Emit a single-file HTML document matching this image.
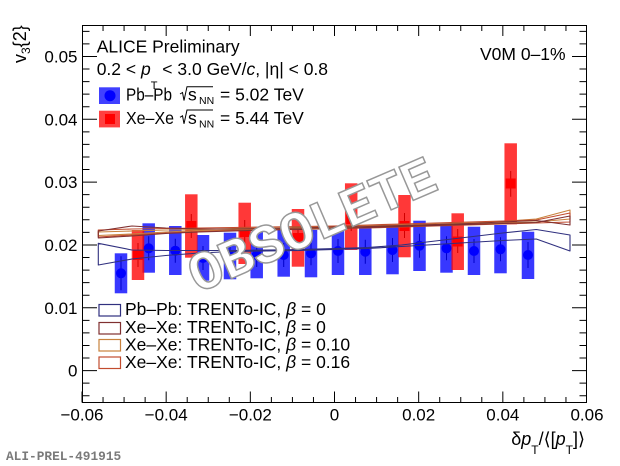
<!DOCTYPE html>
<html><head><meta charset="utf-8"><style>
html,body{margin:0;padding:0;background:#fff;}
svg{display:block;}
text{font-family:"Liberation Sans",sans-serif;}
</style></head><body>
<svg width="620" height="466" viewBox="0 0 620 466" xmlns="http://www.w3.org/2000/svg">
<rect x="0" y="0" width="620" height="466" fill="#fff"/>

<!-- blue syst boxes -->
<g fill="rgba(0,0,255,0.78)">
<rect x="114.75" y="253.3" width="12.5" height="40"/>
<rect x="142.45" y="223.3" width="12.5" height="49.4"/>
<rect x="169.05" y="226" width="12.5" height="49"/>
<rect x="196.75" y="235" width="12.5" height="45.7"/>
<rect x="223.75" y="232.7" width="12.5" height="46.6"/>
<rect x="250.45" y="231.7" width="12.5" height="46.6"/>
<rect x="277.45" y="228.3" width="12.5" height="48.4"/>
<rect x="304.75" y="230" width="12.5" height="47.3"/>
<rect x="331.75" y="226.7" width="12.5" height="48.3"/>
<rect x="359.05" y="226.7" width="12.5" height="48.3"/>
<rect x="386.25" y="225.7" width="12.5" height="48.6"/>
<rect x="413.25" y="220.7" width="12.5" height="50.3"/>
<rect x="440.25" y="223.3" width="12.5" height="49.4"/>
<rect x="467.75" y="226.7" width="12.5" height="48.3"/>
<rect x="494.25" y="225" width="12.5" height="48.3"/>
<rect x="521.75" y="231.7" width="12.5" height="47.3"/>
</g>
<!-- red syst boxes -->
<g fill="rgba(255,0,0,0.78)">
<rect x="131.75" y="230" width="12.5" height="50"/>
<rect x="185.05" y="194.3" width="12.5" height="63.4"/>
<rect x="238.45" y="202.7" width="12.5" height="61.3"/>
<rect x="291.75" y="209" width="12.5" height="57.7"/>
<rect x="344.95" y="183.3" width="12.5" height="66.7"/>
<rect x="398.25" y="195" width="12.5" height="62.3"/>
<rect x="451.45" y="213.3" width="12.5" height="56.7"/>
<rect x="504.45" y="143.3" width="12.5" height="81"/>
</g>

<!-- blue stat errors + markers -->
<g stroke="#0000c8" stroke-width="1">
<path d="M121,256.3V290.3 M148.7,236.3V260.3 M175.3,238.7V262.7 M203,246V270 M230,244V268 M256.7,243V267 M283.7,243V267 M311,241.3V265.3 M338,239V263 M365.3,239.7V263.7 M392.5,238V262 M419.5,233.7V257.7 M446.5,236.3V260.3 M474,239V263 M500.5,237.3V261.3 M528,242V268"/>
</g>
<g fill="#0000ff">
<circle cx="121" cy="273.3" r="5"/>
<circle cx="148.7" cy="248.3" r="5"/>
<circle cx="175.3" cy="250.7" r="5"/>
<circle cx="203" cy="258" r="5"/>
<circle cx="230" cy="256" r="5"/>
<circle cx="256.7" cy="255" r="5"/>
<circle cx="283.7" cy="255" r="5"/>
<circle cx="311" cy="253.3" r="5"/>
<circle cx="338" cy="251" r="5"/>
<circle cx="365.3" cy="251.7" r="5"/>
<circle cx="392.5" cy="250" r="5"/>
<circle cx="419.5" cy="245.7" r="5"/>
<circle cx="446.5" cy="248.3" r="5"/>
<circle cx="474" cy="251" r="5"/>
<circle cx="500.5" cy="249.3" r="5"/>
<circle cx="528" cy="255" r="5"/>
</g>
<!-- red stat errors + markers -->
<g stroke="#d00000" stroke-width="1">
<path d="M138,243V267 M191.3,214V238 M244.7,220V244 M298,226V250 M351.2,207V231 M404.5,213V238 M457.7,229V253 M510.7,171V196.7"/>
</g>
<g fill="#ff0000">
<rect x="133" y="250" width="10" height="10"/>
<rect x="186.3" y="221" width="10" height="10"/>
<rect x="239.7" y="227" width="10" height="10"/>
<rect x="293" y="233" width="10" height="10"/>
<rect x="346.2" y="214" width="10" height="10"/>
<rect x="399.5" y="221" width="10" height="10"/>
<rect x="452.7" y="236.5" width="10" height="10"/>
<rect x="505.7" y="178.5" width="10" height="10"/>
</g>

<!-- TRENTo bands -->
<g fill="none" stroke-width="1.1" stroke-linejoin="round">
<path stroke="#30307f" d="M98.3,243.3 L132,250 L165.7,250.5 L199.4,250.5 L233.1,250.5 L266.8,250 L300.4,249.5 L334.1,248.5 L367.8,247.5 L401.5,245 L435.2,241 L468.9,237 L502.6,233 L536.3,229.5 L570,235 L570,251 L536.3,239 L502.6,240.5 L468.9,242.5 L435.2,244.5 L401.5,246.5 L367.8,248.5 L334.1,249.5 L300.4,250.5 L266.8,251 L233.1,251.5 L199.4,253 L165.7,255.5 L132,259 L98.3,265 Z"/>
<path stroke="#c8823c" d="M98.3,232 L132,231 L165.7,230 L199.4,229.5 L233.1,228.5 L266.8,228 L300.4,227.5 L334.1,226.5 L367.8,225.5 L401.5,225 L435.2,224 L468.9,223 L502.6,221.5 L536.3,219 L570,210 L570,219 L536.3,222 L502.6,223 L468.9,224 L435.2,225 L401.5,226 L367.8,227 L334.1,228 L300.4,228.5 L266.8,229.5 L233.1,230 L199.4,230.5 L165.7,232 L132,234 L98.3,235.5 Z"/>
<path stroke="#c24c2e" d="M98.3,230 L132,229 L165.7,228.5 L199.4,228 L233.1,227.5 L266.8,227 L300.4,226.5 L334.1,226 L367.8,225 L401.5,224 L435.2,223 L468.9,222 L502.6,221 L536.3,220 L570,213 L570,222 L536.3,223 L502.6,224 L468.9,225 L435.2,226 L401.5,227 L367.8,228 L334.1,228.5 L300.4,229 L266.8,230 L233.1,230.5 L199.4,231.5 L165.7,233 L132,235 L98.3,237 Z"/>
<path stroke="#803030" d="M98.3,231 L132,226 L165.7,228 L199.4,229 L233.1,229 L266.8,228.5 L300.4,228 L334.1,227 L367.8,226.5 L401.5,225.5 L435.2,224.5 L468.9,223.5 L502.6,222 L536.3,220.5 L570,225 L570,216 L536.3,222.5 L502.6,223.5 L468.9,224.5 L435.2,225.5 L401.5,226.5 L367.8,227.5 L334.1,228.5 L300.4,229.5 L266.8,230 L233.1,231 L199.4,232 L165.7,233.5 L132,236 L98.3,238 Z"/>
</g>

<!-- watermark -->
<text x="319" y="241" text-anchor="middle" transform="rotate(-23.3 319 241)" style="font-family:'Liberation Mono',monospace;font-weight:bold;font-size:55px" fill="#ffffff" stroke="#989898" stroke-width="1.5">OBSOLETE</text>

<!-- frame -->
<rect x="82.5" y="25.5" width="504" height="377" fill="none" stroke="#000" stroke-width="1"/>
<g stroke="#000" stroke-width="1" fill="none">
<path d="M82,395.73h7.5 M82,383.17h7.5 M82,370.6h15 M82,358.03h7.5 M82,345.47h7.5 M82,332.9h7.5 M82,320.34h7.5 M82,307.77h15 M82,295.2h7.5 M82,282.64h7.5 M82,270.07h7.5 M82,257.51h7.5 M82,244.94h15 M82,232.37h7.5 M82,219.81h7.5 M82,207.24h7.5 M82,194.68h7.5 M82,182.11h15 M82,169.54h7.5 M82,156.98h7.5 M82,144.41h7.5 M82,131.85h7.5 M82,119.28h15 M82,106.71h7.5 M82,94.15h7.5 M82,81.58h7.5 M82,69.02h7.5 M82,56.45h15 M82,43.88h7.5 M82,31.32h7.5"/>
<path d="M587,395.73h-7.5 M587,383.17h-7.5 M587,370.6h-15 M587,358.03h-7.5 M587,345.47h-7.5 M587,332.9h-7.5 M587,320.34h-7.5 M587,307.77h-15 M587,295.2h-7.5 M587,282.64h-7.5 M587,270.07h-7.5 M587,257.51h-7.5 M587,244.94h-15 M587,232.37h-7.5 M587,219.81h-7.5 M587,207.24h-7.5 M587,194.68h-7.5 M587,182.11h-15 M587,169.54h-7.5 M587,156.98h-7.5 M587,144.41h-7.5 M587,131.85h-7.5 M587,119.28h-15 M587,106.71h-7.5 M587,94.15h-7.5 M587,81.58h-7.5 M587,69.02h-7.5 M587,56.45h-15 M587,43.88h-7.5 M587,31.32h-7.5"/>
<path d="M82,402.5v-11 M103.04,402.5v-5.5 M124.08,402.5v-5.5 M145.13,402.5v-5.5 M166.17,402.5v-11 M187.21,402.5v-5.5 M208.25,402.5v-5.5 M229.29,402.5v-5.5 M250.33,402.5v-11 M271.38,402.5v-5.5 M292.42,402.5v-5.5 M313.46,402.5v-5.5 M334.5,402.5v-11 M355.54,402.5v-5.5 M376.58,402.5v-5.5 M397.63,402.5v-5.5 M418.67,402.5v-11 M439.71,402.5v-5.5 M460.75,402.5v-5.5 M481.79,402.5v-5.5 M502.83,402.5v-11 M523.88,402.5v-5.5 M544.92,402.5v-5.5 M565.96,402.5v-5.5"/>
<path d="M103.04,25v6 M124.08,25v6 M145.13,25v6 M166.17,25v11 M187.21,25v6 M208.25,25v6 M229.29,25v6 M250.33,25v11 M271.38,25v6 M292.42,25v6 M313.46,25v6 M334.5,25v11 M355.54,25v6 M376.58,25v6 M397.63,25v6 M418.67,25v11 M439.71,25v6 M460.75,25v6 M481.79,25v6 M502.83,25v11 M523.88,25v6 M544.92,25v6 M565.96,25v6"/>
</g>

<!-- y tick labels -->
<g font-size="17" text-anchor="end" fill="#000">
<text x="77.5" y="376.6">0</text>
<text x="77.5" y="313.8">0.01</text>
<text x="77.5" y="250.9">0.02</text>
<text x="77.5" y="188.1">0.03</text>
<text x="77.5" y="125.3">0.04</text>
<text x="77.5" y="62.5">0.05</text>
</g>
<!-- x tick labels -->
<g font-size="17" text-anchor="middle" fill="#000">
<text x="82" y="420.5">−0.06</text>
<text x="166.17" y="420.5">−0.04</text>
<text x="250.33" y="420.5">−0.02</text>
<text x="334.5" y="420.5">0</text>
<text x="418.67" y="420.5">0.02</text>
<text x="502.83" y="420.5">0.04</text>
<text x="587" y="420.5">0.06</text>
</g>

<!-- axis titles -->
<text x="585" y="445" text-anchor="end" font-size="18">δ<tspan font-style="italic">p</tspan><tspan dy="9" font-size="12">T</tspan><tspan dy="-9">/⟨[</tspan><tspan font-style="italic">p</tspan><tspan dy="9" font-size="12">T</tspan><tspan dy="-9">]⟩</tspan></text>
<text transform="translate(26,63) rotate(-90)" font-size="18">v<tspan dy="4" font-size="12">3</tspan><tspan dy="-4">{2}</tspan></text>

<!-- top legend -->
<text x="96.7" y="52.3" font-size="17.5">ALICE Preliminary</text>
<text x="96.7" y="74.8" font-size="17.5">0.2 &lt; <tspan font-style="italic">p</tspan><tspan dy="14" font-size="11">T</tspan><tspan dy="-14"> &lt; 3.0 GeV/</tspan><tspan font-style="italic">c</tspan>, |η| &lt; 0.8</text>
<text x="480" y="60" font-size="17.5">V0M 0–1%</text>

<rect x="99" y="87.3" width="21" height="16.7" fill="rgba(0,0,255,0.75)"/>
<circle cx="110" cy="95.7" r="5.5" fill="#0000ff"/>
<rect x="99" y="110.7" width="21" height="16.7" fill="rgba(255,0,0,0.75)"/>
<rect x="105" y="114" width="10" height="10" fill="#ff0000"/>

<g font-size="17.5">
<text x="126" y="100.7" textLength="46" lengthAdjust="spacingAndGlyphs">Pb–Pb</text>
<text x="188" y="100.7">s</text>
<text x="199" y="104" font-size="10.5">NN</text>
<text x="220" y="100.7">= 5.02 TeV</text>
<text x="126" y="124" textLength="48" lengthAdjust="spacingAndGlyphs">Xe–Xe</text>
<text x="188" y="124">s</text>
<text x="199" y="127.3" font-size="10.5">NN</text>
<text x="220" y="124">= 5.44 TeV</text>
</g>
<g fill="none" stroke="#000" stroke-width="1">
<path d="M180,94 L182.5,92.5 L184,100.5 L187,86.7 L213,86.7"/>
<path d="M180,117.3 L182.5,115.8 L184,123.8 L187,110 L213,110"/>
</g>

<!-- bottom legend -->
<g fill="none" stroke-width="1.2">
<rect x="99" y="304.5" width="21.5" height="11.5" stroke="#30307f"/>
<rect x="99" y="322.5" width="21.5" height="11.5" stroke="#803030"/>
<rect x="99" y="339.5" width="21.5" height="11.5" stroke="#c8823c"/>
<rect x="99" y="357" width="21.5" height="11.5" stroke="#c24c2e"/>
</g>
<g font-size="17.5">
<text x="125" y="315">Pb–Pb: TRENTo-IC, <tspan font-style="italic">β</tspan> = 0</text>
<text x="125" y="333">Xe–Xe: TRENTo-IC, <tspan font-style="italic">β</tspan> = 0</text>
<text x="125" y="350.3">Xe–Xe: TRENTo-IC, <tspan font-style="italic">β</tspan> = 0.10</text>
<text x="125" y="368">Xe–Xe: TRENTo-IC, <tspan font-style="italic">β</tspan> = 0.16</text>
</g>

<text x="6" y="460" style="font-family:'Liberation Mono',monospace;font-weight:bold;font-size:12.8px" fill="#7a7a7a">ALI-PREL-491915</text>
</svg>
</body></html>
